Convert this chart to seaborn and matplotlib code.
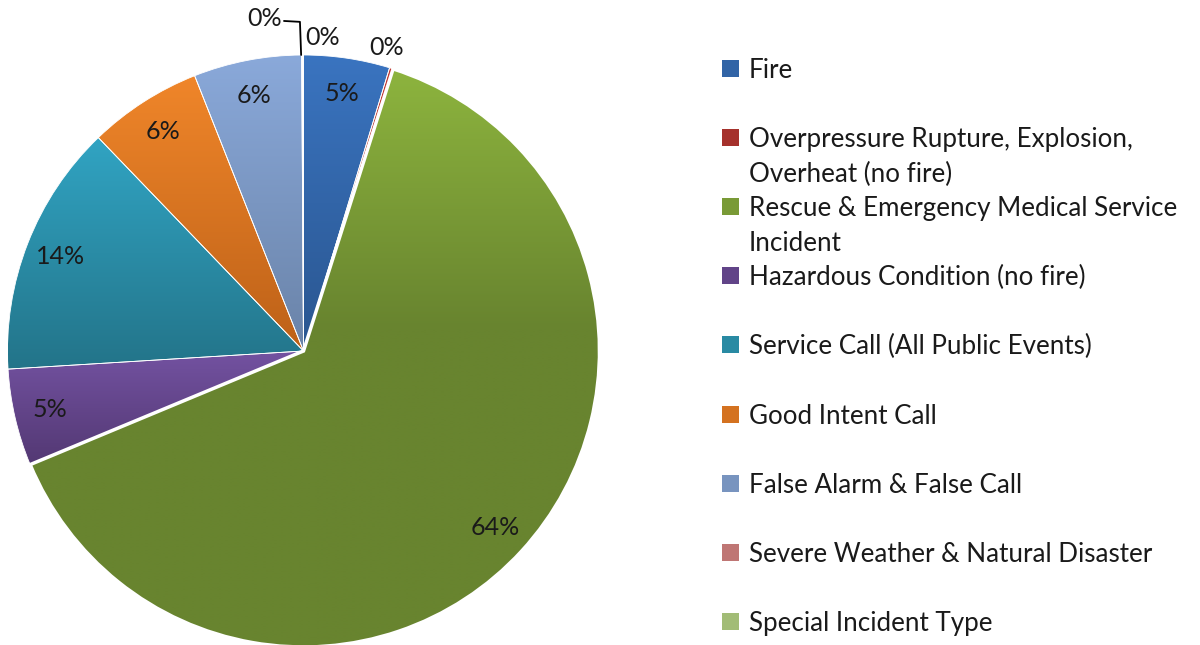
import numpy as np
import matplotlib
matplotlib.use("Agg")
import matplotlib.pyplot as plt
from matplotlib.colors import LinearSegmentedColormap, to_rgb
from matplotlib.patches import Rectangle
import seaborn as sns

# Incident types and their share of calls (%)
categories = [
    "Fire",
    "Overpressure Rupture, Explosion,\nOverheat (no fire)",
    "Rescue & Emergency Medical Service\nIncident",
    "Hazardous Condition (no fire)",
    "Service Call (All Public Events)",
    "Good Intent Call",
    "False Alarm & False Call",
    "Severe Weather & Natural Disaster",
    "Special Incident Type",
]
shares = [4.7, 0.2, 63.9, 5.3, 13.8, 6.2, 5.9, 0.05, 0.05]

# gradient colours (top, bottom) per slice, Excel-2007 look
top_colors = ["#3A74C0", "#C23A33", "#8DB43E", "#7352A1", "#31A4C3",
              "#F0862A", "#8AA9DA", "#E18C8A", "#BAD589"]
bottom_colors = ["#2A5690", "#8E2A26", "#68842F", "#533873", "#237489",
                 "#BD6118", "#6A83A8", "#A46462", "#8EA866"]

sns.set_theme(style="white")
plt.rcParams["font.family"] = ["Lato", "DejaVu Sans"]

fig = plt.figure(figsize=(12, 6.45), dpi=100)
W, H = 1200, 645
cx, cy, r = 303.5, 351, 296
ax = fig.add_axes([(cx - r) / W, (H - cy - r) / H, 2 * r / W, 2 * r / H])
ax.set_aspect("equal")

wedges, texts, autotexts = ax.pie(
    shares, startangle=90, counterclock=False, radius=1,
    autopct="%1.0f%%", pctdistance=0.88,
    wedgeprops=dict(edgecolor="white", linewidth=0.6),
    textprops=dict(fontsize=18, color="#1a1a1a"),
)

# gradient fill clipped to each wedge
for i, w in enumerate(wedges):
    ext = w.get_path().get_extents()
    cmap = LinearSegmentedColormap.from_list("g", [top_colors[i], bottom_colors[i]])
    ramp = np.linspace(0, 1, 256)
    if i == 2:
        ramp = np.clip(ramp / 0.45, 0, 1)
    grad = ramp[:, None]
    im = ax.imshow(grad, cmap=cmap, vmin=0, vmax=1, aspect="auto",
                   extent=[ext.x0, ext.x1, ext.y0, ext.y1], origin="upper",
                   zorder=w.get_zorder(), interpolation="bilinear")
    im.set_clip_path(w)
    w.set_facecolor("none")
    w.set_zorder(w.get_zorder() + 0.5)
    if i == 2:
        w.set_linewidth(2.5)

for t in autotexts:
    t.set_zorder(5)
    t.set_clip_on(False)

# small slices: labels outside
autotexts[1].set_position((0.28, 1.027))
autotexts[7].set_position((0.063, 1.06))
autotexts[8].set_position((-0.13, 1.125))
ax.plot([-0.066, -0.012, -0.008], [1.115, 1.112, 1.0], color="black", lw=1.3,
        clip_on=False, zorder=6)

ax.set_xlim(-1, 1)
ax.set_ylim(-1, 1)
ax.axis("off")

# legend, Excel style: evenly spaced entries, wrapped lines overflow
leg_top, leg_step, line_step = 68, 69.2, 35
for i, lab in enumerate(categories):
    y = leg_top + leg_step * i
    mid = tuple(0.45 * a + 0.55 * b for a, b in
                zip(to_rgb(top_colors[i]), to_rgb(bottom_colors[i])))
    sq = Rectangle((722 / W, (H - y - 8.5) / H), 17 / W, 17 / H,
                   transform=fig.transFigure, facecolor=mid,
                   edgecolor="none")
    fig.patches.append(sq)
    for k, line in enumerate(lab.split("\n")):
        fig.text(749 / W, (H - y - 9.5 - k * line_step) / H, line,
                 fontsize=18.7, va="baseline", ha="left", color="#1a1a1a",
                 transform=fig.transFigure)

fig.savefig("out.png", dpi=100)
